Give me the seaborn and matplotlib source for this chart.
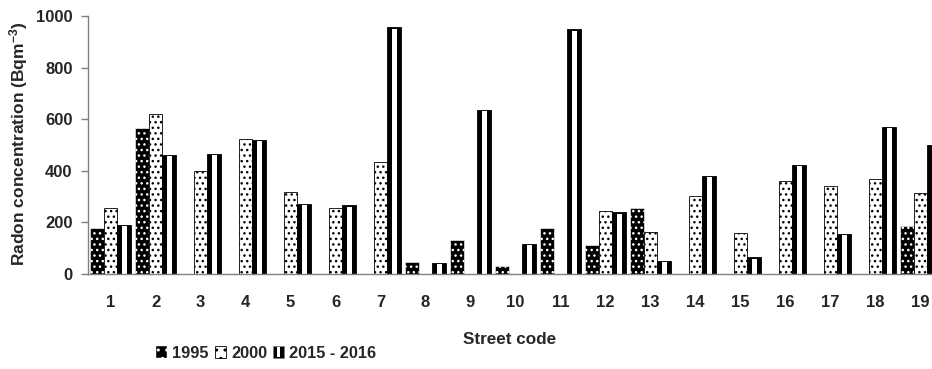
"""plot.py
Radon concentration per street code, three survey periods.
"""

import matplotlib.pyplot as plt
import matplotlib as mpl
import seaborn as sns
import pandas as pd
import numpy as np
from matplotlib.patches import Rectangle
from matplotlib.legend_handler import HandlerBase

# Data
street_codes = [str(i) for i in range(1, 20)]
years = ['1995', '2000', '2015 - 2016']
radon_1995 = [178, 564, np.nan, np.nan, np.nan, np.nan, np.nan, 45, 132, 32,
              179, 112, 255, np.nan, np.nan, np.nan, np.nan, np.nan, 187]
radon_2000 = [254, 619, 401, 525, 317, 257, 436, np.nan, np.nan, np.nan,
              np.nan, 244, 164, 302, 157, 359, 343, 370, 314]
radon_2015 = [190, 463, 467, 519, 271, 266, 956, 42, 636, 116,
              948, 239, 52, 381, 65, 422, 155, 569, 501]
y_ticks = [0, 200, 400, 600, 800, 1000]

# Long table for seaborn
df = pd.DataFrame({
    'code': street_codes * 3,
    'year': np.repeat(years, len(street_codes)),
    'value': radon_1995 + radon_2000 + radon_2015,
})

# Style
sns.set_style('ticks')
plt.rcParams['font.family'] = ['Liberation Sans', 'DejaVu Sans']
plt.rcParams['font.weight'] = 'bold'
plt.rcParams['mathtext.fontset'] = 'custom'
plt.rcParams['mathtext.bf'] = 'Liberation Sans:bold'
plt.rcParams['mathtext.rm'] = 'Liberation Sans:bold'
plt.rcParams['mathtext.default'] = 'bf'
plt.rcParams['hatch.linewidth'] = 1.0
axis_grey = '#808080'

# Figure
W, H = 932, 369
fig = plt.figure(figsize=(W / 100, H / 100), dpi=100)
ax = fig.add_axes([88 / W, (H - 274) / H, (W - 88) / W, 258 / H])

sns.barplot(data=df, x='code', y='value', hue='year', order=street_codes,
            hue_order=years, palette=['black', 'white', 'black'],
            width=0.92, gap=0, errorbar=None, edgecolor='black',
            linewidth=0.6, legend=False, ax=ax)

# Patterns: 1995 black with white dots, 2000 white with black dots,
# 2015-2016 black with a white vertical stripe
c95, c00, c15 = ax.containers[:3]
for bar in c95:
    bar.set_hatch('...')
    bar.set_edgecolor('white')
    bar.set_linewidth(0.4)
for bar in c00:
    bar.set_hatch('...')
top_gap = 5
for bar in c15:
    x, w, h = bar.get_x(), bar.get_width(), bar.get_height()
    ax.add_patch(Rectangle((x + 0.34 * w, 0), 0.32 * w, h - top_gap,
                           facecolor='white', linewidth=0, zorder=bar.get_zorder()))

# Axes
ax.set_xlim(-0.5, (W - 88) / 45 - 0.5)
ax.set_ylim(0, 1000)
ax.set_yticks(y_ticks)
sns.despine(ax=ax)
for side in ['left', 'bottom']:
    ax.spines[side].set_color(axis_grey)
    ax.spines[side].set_linewidth(1.0)
ax.tick_params(axis='y', length=5, width=1, color=axis_grey, pad=6,
               labelsize=12)
ax.tick_params(axis='x', length=0, pad=15, labelsize=12)
for lab in ax.get_xticklabels() + ax.get_yticklabels():
    lab.set_fontweight('bold')

ax.set_xlabel('Street code', fontsize=12.3, fontweight='bold', va='top')
ax.xaxis.set_label_coords(0.5, -0.225)
ax.set_ylabel('Radon concentration (Bqm$^{-3}$)', fontsize=12.5,
              fontweight='bold')
ax.yaxis.set_label_coords(-0.0685, 0.505)


# Legend with small pattern swatches
class SwatchHandler(HandlerBase):
    def __init__(self, kind):
        super().__init__()
        self.kind = kind

    def create_artists(self, legend, orig, xd, yd, w, h, fs, trans):
        if self.kind == 'stripe':
            outer = Rectangle((xd, yd), w, h, facecolor='black',
                              edgecolor=axis_grey, lw=0.5, transform=trans)
            inner = Rectangle((xd + 0.35 * w, yd + 0.1 * h), 0.3 * w, 0.8 * h,
                              facecolor='white', lw=0, transform=trans)
            return [outer, inner]
        if self.kind == 'dark':
            box = Rectangle((xd, yd), w, h, facecolor='black',
                            edgecolor='white', hatch='..', lw=0.3,
                            transform=trans)
            return [box]
        box = Rectangle((xd, yd), w, h, facecolor='white', edgecolor='black',
                        hatch='..', lw=0.6, transform=trans)
        return [box]


handles = [Rectangle((0, 0), 1, 1) for _ in years]
fig.legend(handles, years, loc='lower left',
           bbox_to_anchor=(156 / W, 8 / H), ncol=3, frameon=False,
           borderpad=0, borderaxespad=0, handlelength=0.7, handleheight=0.75,
           handletextpad=0.3, columnspacing=0.35,
           prop={'size': 11.8, 'weight': 'bold'},
           handler_map={handles[0]: SwatchHandler('dark'),
                        handles[1]: SwatchHandler('light'),
                        handles[2]: SwatchHandler('stripe')})

fig.savefig('out.png', dpi=100)
